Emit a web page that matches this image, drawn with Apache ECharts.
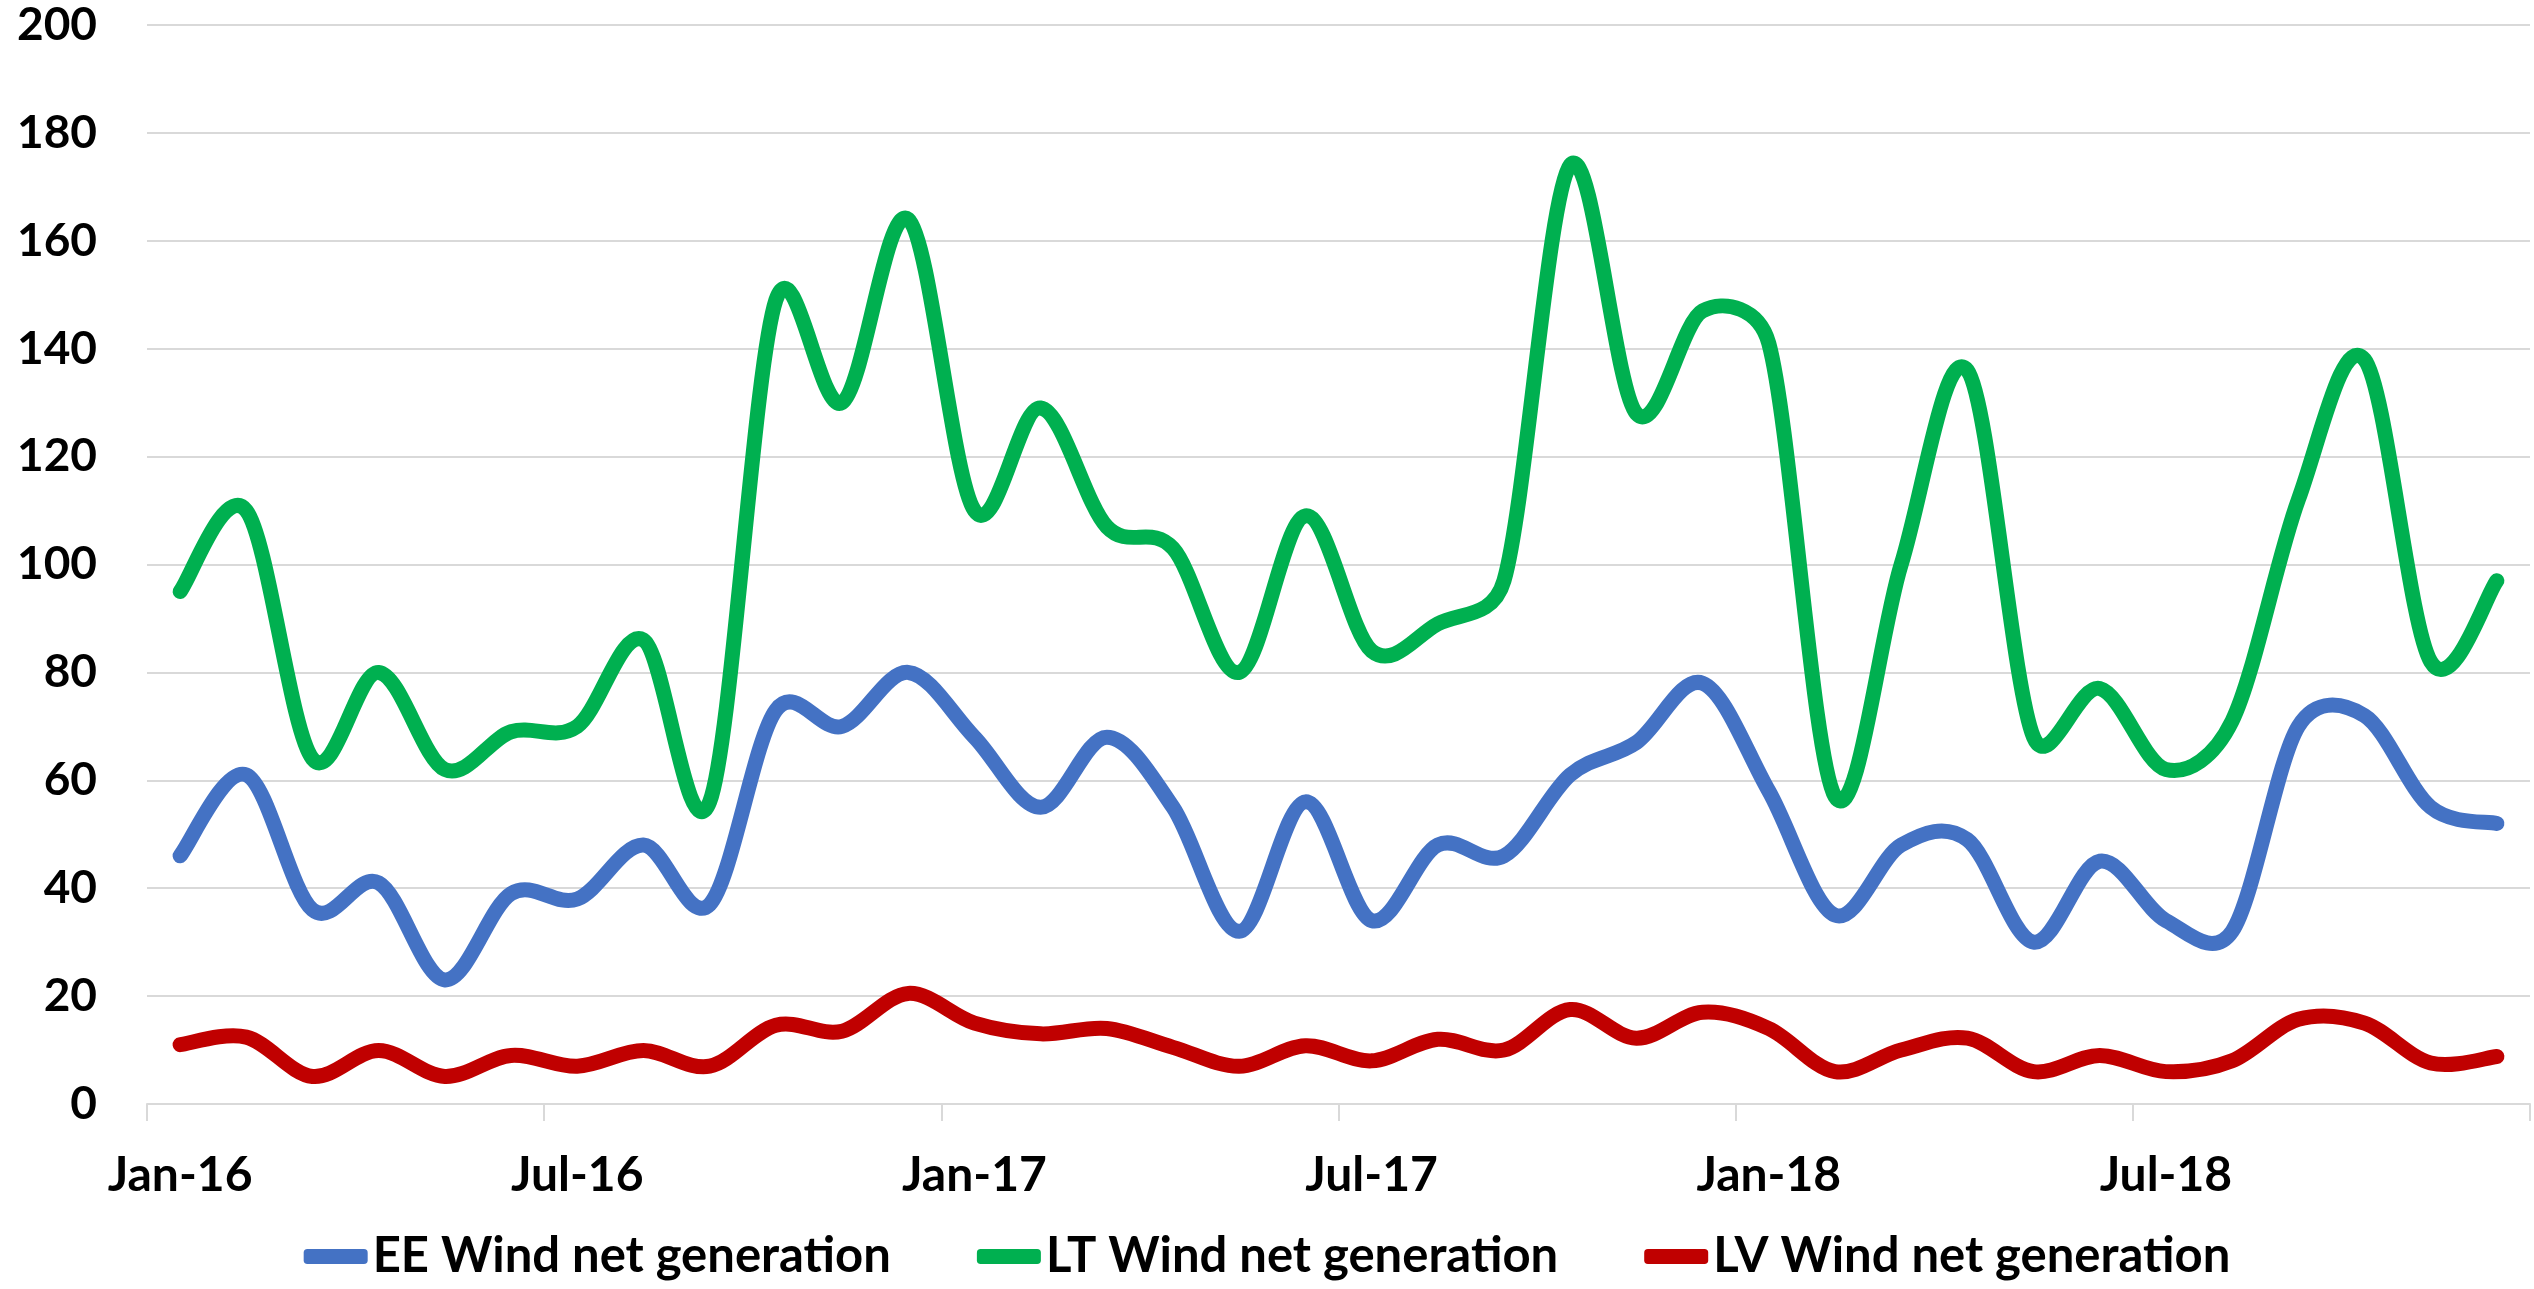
<!DOCTYPE html>
<html>
<head>
<meta charset="utf-8">
<title>Wind net generation</title>
<script src="https://cdn.jsdelivr.net/npm/echarts@6/dist/echarts.min.js"></script>
<style>
  html, body { margin: 0; padding: 0; background: #fff; }
  #chart { width: 2534px; height: 1289px; }
</style>
</head>
<body>
<div id="chart"></div>
<script>
// months Jan-16 .. Dec-18
const months = [
  "Jan-16", "Feb-16", "Mar-16", "Apr-16", "May-16", "Jun-16",
  "Jul-16", "Aug-16", "Sep-16", "Oct-16", "Nov-16", "Dec-16",
  "Jan-17", "Feb-17", "Mar-17", "Apr-17", "May-17", "Jun-17",
  "Jul-17", "Aug-17", "Sep-17", "Oct-17", "Nov-17", "Dec-17",
  "Jan-18", "Feb-18", "Mar-18", "Apr-18", "May-18", "Jun-18",
  "Jul-18", "Aug-18", "Sep-18", "Oct-18", "Nov-18", "Dec-18"
];

const eeWind = [
  46, 61, 36, 41, 23, 39, 38, 48, 37, 73, 70, 80,
  68, 55, 68, 55, 32, 56, 34, 48, 46, 61, 67, 78,
  58, 35, 48, 49, 30, 45, 34, 32, 70, 72, 55, 52
];

const ltWind = [
  95, 110, 64, 80, 62, 69, 70, 86, 56, 149, 130, 164,
  110, 129, 107, 103, 80, 109, 84, 89, 97, 174, 128, 147,
  141, 57, 100, 136, 68, 77, 62, 71, 112, 138, 82, 97
];

const lvWind = [
  11, 12.4, 5.1, 9.9, 5.1, 9, 7, 9.9, 7, 14.6, 13.5, 20.5,
  15, 13, 14, 10.5, 7, 10.8, 8, 12, 10, 17.5, 12.2, 17,
  14, 6, 10, 12.2, 6, 9, 6, 8, 15.7, 15, 7.6, 8.8
];

const seriesNames = ["EE Wind net generation", "LT Wind net generation", "LV Wind net generation"];
const seriesColors = ["#4472C4", "#00B050", "#C00000"];

const fontFamily = "Lato";
const lineWidth = 15;

const chart = echarts.init(document.getElementById("chart"));

function dist(a, b) {
  return Math.sqrt((a[0] - b[0]) * (a[0] - b[0]) + (a[1] - b[1]) * (a[1] - b[1]));
}

// Excel-style smoothed line: bezier with 1/6 tangents, capped at half the segment
function smoothPath(pts) {
  let d = "M" + pts[0][0] + " " + pts[0][1];
  for (let i = 0; i < pts.length - 1; i++) {
    const p0 = pts[i - 1] || pts[i];
    const p1 = pts[i];
    const p2 = pts[i + 1];
    const p3 = pts[i + 2] || pts[i + 1];
    const d12 = dist(p1, p2);
    const d02 = dist(p0, p2);
    const d13 = dist(p1, p3);
    let f0 = 1 / 6;
    let f1 = 1 / 6;
    if (d02 / 6 >= d12 / 2 && d02 > 0) f0 = d12 / d02 / 2;
    if (d13 / 6 >= d12 / 2 && d13 > 0) f1 = d12 / d13 / 2;
    const c1x = p1[0] + (p2[0] - p0[0]) * f0;
    const c1y = p1[1] + (p2[1] - p0[1]) * f0;
    const c2x = p2[0] - (p3[0] - p1[0]) * f1;
    const c2y = p2[1] - (p3[1] - p1[1]) * f1;
    d += " C" + c1x + " " + c1y + " " + c2x + " " + c2y + " " + p2[0] + " " + p2[1];
  }
  return d;
}

function lineSeries(idx, values) {
  return {
    name: seriesNames[idx],
    type: "custom",
    data: values.map((v, i) => [i, v]),
    encode: { x: 0, y: 1 },
    itemStyle: { color: seriesColors[idx] },
    renderItem: function (params, api) {
      if (params.dataIndex !== 0) {
        return null;
      }
      const pts = values.map((v, i) => api.coord([i, v]));
      return {
        type: "path",
        shape: { pathData: smoothPath(pts) },
        style: {
          fill: "none",
          stroke: seriesColors[idx],
          lineWidth: lineWidth,
          lineCap: "round",
          lineJoin: "round"
        }
      };
    }
  };
}

const option = {
  animation: false,
  backgroundColor: "#ffffff",
  grid: {
    left: 147,
    right: 4,
    top: 25,
    bottom: 185
  },
  legend: {
    bottom: 3,
    left: "center",
    itemWidth: 64,
    itemHeight: 15,
    itemGap: 86,
    icon: "roundRect",
    textStyle: {
      fontFamily: fontFamily,
      fontWeight: "bold",
      fontSize: 49,
      color: "#000"
    },
    data: seriesNames.map((n, i) => ({ name: n, itemStyle: { color: seriesColors[i] } }))
  },
  xAxis: {
    type: "category",
    data: months,
    boundaryGap: true,
    axisLine: { lineStyle: { color: "#d9d9d9", width: 2 } },
    axisTick: { show: true, interval: 5, length: 17, lineStyle: { color: "#d9d9d9", width: 2 } },
    axisLabel: {
      interval: 5,
      margin: 48,
      fontFamily: fontFamily,
      fontWeight: "bold",
      fontSize: 48,
      color: "#000"
    }
  },
  yAxis: {
    type: "value",
    min: 0,
    max: 200,
    interval: 20,
    axisLine: { show: false },
    axisTick: { show: false },
    axisLabel: {
      margin: 50,
      fontFamily: fontFamily,
      fontWeight: "bold",
      fontSize: 46,
      color: "#000"
    },
    splitLine: { lineStyle: { color: "#d9d9d9", width: 2 } }
  },
  series: [
    lineSeries(0, eeWind),
    lineSeries(1, ltWind),
    lineSeries(2, lvWind)
  ]
};

chart.setOption(option);
</script>
</body>
</html>
